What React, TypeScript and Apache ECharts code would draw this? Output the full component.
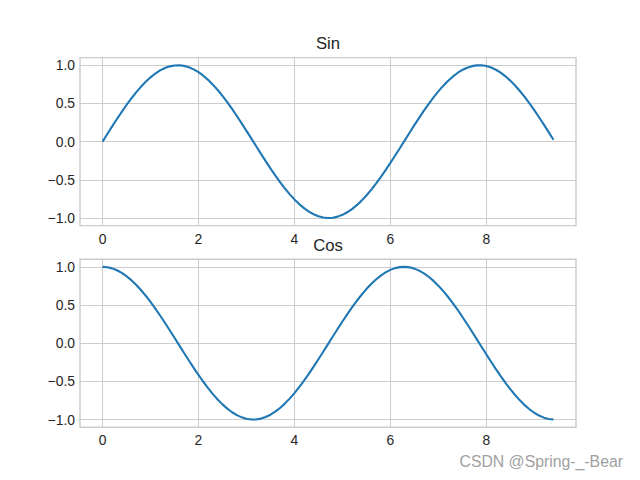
import React, { useEffect, useRef } from "react";
import * as echarts from "echarts";

const xs = [
  0.0, 0.1, 0.2, 0.3, 0.4, 0.5, 0.6, 0.7, 0.8, 0.9,
  1.0, 1.1, 1.2, 1.3, 1.4, 1.5, 1.6, 1.7, 1.8, 1.9,
  2.0, 2.1, 2.2, 2.3, 2.4, 2.5, 2.6, 2.7, 2.8, 2.9,
  3.0, 3.1, 3.2, 3.3, 3.4, 3.5, 3.6, 3.7, 3.8, 3.9,
  4.0, 4.1, 4.2, 4.3, 4.4, 4.5, 4.6, 4.7, 4.8, 4.9,
  5.0, 5.1, 5.2, 5.3, 5.4, 5.5, 5.6, 5.7, 5.8, 5.9,
  6.0, 6.1, 6.2, 6.3, 6.4, 6.5, 6.6, 6.7, 6.8, 6.9,
  7.0, 7.1, 7.2, 7.3, 7.4, 7.5, 7.6, 7.7, 7.8, 7.9,
  8.0, 8.1, 8.2, 8.3, 8.4, 8.5, 8.6, 8.7, 8.8, 8.9,
  9.0, 9.1, 9.2, 9.3, 9.4,
];

const sinValues = [
  0.0, 0.0998, 0.1987, 0.2955, 0.3894, 0.4794, 0.5646, 0.6442, 0.7174, 0.7833,
  0.8415, 0.8912, 0.932, 0.9636, 0.9854, 0.9975, 0.9996, 0.9917, 0.9738, 0.9463,
  0.9093, 0.8632, 0.8085, 0.7457, 0.6755, 0.5985, 0.5155, 0.4274, 0.335, 0.2392,
  0.1411, 0.0416, -0.0584, -0.1577, -0.2555, -0.3508, -0.4425, -0.5298, -0.6119, -0.6878,
  -0.7568, -0.8183, -0.8716, -0.9162, -0.9516, -0.9775, -0.9937, -0.9999, -0.9962, -0.9825,
  -0.9589, -0.9258, -0.8835, -0.8323, -0.7728, -0.7055, -0.6313, -0.5507, -0.4646, -0.3739,
  -0.2794, -0.1822, -0.0831, 0.0168, 0.1165, 0.2151, 0.3115, 0.4048, 0.4941, 0.5784,
  0.657, 0.729, 0.7937, 0.8504, 0.8987, 0.938, 0.9679, 0.9882, 0.9985, 0.9989,
  0.9894, 0.9699, 0.9407, 0.9022, 0.8546, 0.7985, 0.7344, 0.663, 0.5849, 0.501,
  0.4121, 0.3191, 0.2229, 0.1245, 0.0248,
];

const cosValues = [
  1.0, 0.995, 0.9801, 0.9553, 0.9211, 0.8776, 0.8253, 0.7648, 0.6967, 0.6216,
  0.5403, 0.4536, 0.3624, 0.2675, 0.17, 0.0707, -0.0292, -0.1288, -0.2272, -0.3233,
  -0.4161, -0.5048, -0.5885, -0.6663, -0.7374, -0.8011, -0.8569, -0.9041, -0.9422, -0.971,
  -0.99, -0.9991, -0.9983, -0.9875, -0.9668, -0.9365, -0.8968, -0.8481, -0.791, -0.7259,
  -0.6536, -0.5748, -0.4903, -0.4008, -0.3073, -0.2108, -0.1122, -0.0124, 0.0875, 0.1865,
  0.2837, 0.378, 0.4685, 0.5544, 0.6347, 0.7087, 0.7756, 0.8347, 0.8855, 0.9275,
  0.9602, 0.9833, 0.9965, 0.9999, 0.9932, 0.9766, 0.9502, 0.9144, 0.8694, 0.8157,
  0.7539, 0.6845, 0.6084, 0.5261, 0.4385, 0.3466, 0.2513, 0.1534, 0.054, -0.046,
  -0.1455, -0.2435, -0.3392, -0.4314, -0.5193, -0.602, -0.6787, -0.7486, -0.8111, -0.8654,
  -0.9111, -0.9477, -0.9748, -0.9922, -0.9997,
];

const xTicks = [0, 2, 4, 6, 8];
const yTicks = [-1.0, -0.5, 0.0, 0.5, 1.0];
const titles = ["Sin", "Cos"];
const watermark = "CSDN @Spring-_-Bear";

const FONT = "'Liberation Sans', Arial, sans-serif";
const GRID_COLOR = "#cccccc";
const TEXT_COLOR = "#262626";
const LINE_COLOR = "#1f77b4";

export default function App() {
  const ref = useRef<HTMLDivElement>(null);

  useEffect(() => {
    if (!ref.current) return;
    const chart = echarts.init(ref.current, null, { renderer: "svg" });

    const gridTops = [57.6, 259.2];
    const seriesData = [sinValues, cosValues];

    const makeX = (i: number) => ({
      type: "value",
      gridIndex: i,
      min: -0.47,
      max: 9.87,
      axisLine: { show: false },
      axisTick: { show: false, customValues: xTicks },
      axisLabel: {
        customValues: xTicks,
        color: TEXT_COLOR,
        fontFamily: FONT,
        fontSize: 13.9,
        margin: 6,
        formatter: (v: number) => String(v),
      },
      splitLine: { show: true, lineStyle: { color: GRID_COLOR, width: 1.1 } },
    });
    const makeY = (i: number) => ({
      type: "value",
      gridIndex: i,
      min: -1.1,
      max: 1.1,
      axisLine: { show: false },
      axisTick: { show: false, customValues: yTicks },
      axisLabel: {
        customValues: yTicks,
        color: TEXT_COLOR,
        fontFamily: FONT,
        fontSize: 13.9,
        margin: 5,
        formatter: (v: number) => v.toFixed(1).replace("-", "\u2212"),
      },
      splitLine: { show: true, lineStyle: { color: GRID_COLOR, width: 1.1 } },
    });

    chart.setOption({
      animation: false,
      backgroundColor: "#ffffff",
      grid: gridTops.map((t) => ({
        left: 80,
        width: 496,
        top: t,
        height: 168,
        show: true,
        borderColor: GRID_COLOR,
        borderWidth: 1.4,
        backgroundColor: "transparent",
      })),
      xAxis: [makeX(0), makeX(1)],
      yAxis: [makeY(0), makeY(1)],
      series: seriesData.map((vals, i) => ({
        type: "line",
        xAxisIndex: i,
        yAxisIndex: i,
        data: xs.map((x, j) => [x, vals[j]]),
        showSymbol: false,
        symbol: "none",
        lineStyle: { color: LINE_COLOR, width: 2.1 },
        itemStyle: { color: LINE_COLOR },
        z: 3,
      })),
      graphic: [
        ...titles.map((t, i) => ({
          type: "text",
          x: 328,
          y: gridTops[i] - 13.8,
          style: {
            text: t,
            fill: TEXT_COLOR,
            font: `16.7px ${FONT}`,
            align: "center",
            verticalAlign: "middle",
          },
        })),
        {
          type: "text",
          x: 623,
          y: 461,
          style: {
            text: watermark,
            fill: "#a0a0a0",
            font: `15.8px ${FONT}`,
            align: "right",
            verticalAlign: "middle",
          },
        },
      ],
    });

    return () => chart.dispose();
  }, []);

  return (
    <div
      ref={ref}
      style={{ position: "absolute", left: 0, top: 0, width: 640, height: 480 }}
    />
  );
}
